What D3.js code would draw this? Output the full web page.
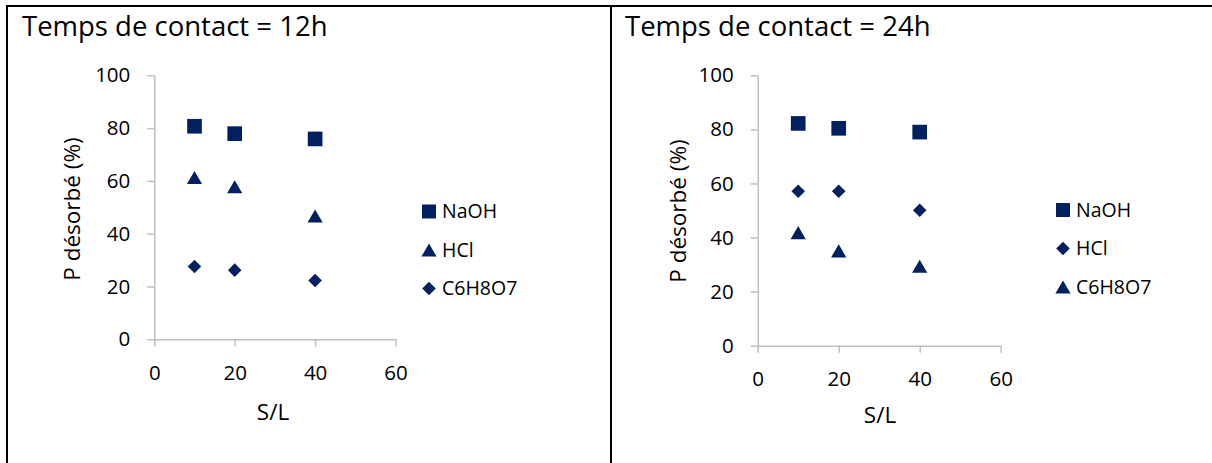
<!DOCTYPE html>
<html>
<head>
<meta charset="utf-8">
<script src="https://cdn.jsdelivr.net/npm/d3@7"></script>
<style>
  body { margin: 0; background: #fff; }
  text { font-family: "Open Sans", sans-serif; fill: #000; }
</style>
</head>
<body>
<div id="my_dataviz"></div>
<script>
// data
var xValues = [10, 20, 40];
var seriesNames = ["NaOH", "HCl", "C6H8O7"];
var naoh12 = [80.7, 77.9, 75.9];
var hcl12 = [61.3, 57.8, 46.7];
var citric12 = [27.6, 26.2, 22.3];
var naoh24 = [82.2, 80.4, 79.0];
var hcl24 = [57.1, 57.1, 50.1];
var citric24 = [41.8, 35.1, 29.4];
var xTicks = [0, 20, 40, 60];
var yTicks = [0, 20, 40, 60, 80, 100];
var titles = ["Temps de contact = 12h", "Temps de contact = 24h"];

const W = 1212, H = 463;
const navy = "#002060", axisGrey = "#bfbfbf";

var svg = d3.select("#my_dataviz")
  .append("svg")
    .attr("width", W)
    .attr("height", H);

// frame of the two table cells
svg.append("path")
    .attr("fill", "none")
    .attr("stroke", "#000")
    .attr("stroke-width", 2)
    .attr("d", "M6,6H" + W + "M7,5V" + H + "M611,5V" + H);

// marker shapes, centred on their bounding box like Excel does
function marker(kind, legend) {
  if (kind == "square") return d3.symbol(d3.symbolSquare, legend ? 196 : 215)();
  if (kind == "diamond") return d3.symbol(d3.symbolSquare, 92)();
  return d3.symbol(d3.symbolTriangle, 100)();
}
function markerTransform(kind, x, y) {
  if (kind == "diamond") return "translate(" + x + "," + y + ") rotate(45)";
  if (kind == "triangle") return "translate(" + x + "," + (y + 2.2) + ")";
  return "translate(" + x + "," + y + ")";
}

function drawPanel(p) {
  var g = svg.append("g");

  var xScale = d3.scaleLinear().domain([0, 60]).range([p.x0, p.x1]);
  var yScale = d3.scaleLinear().domain([0, 100]).range([p.yBot, p.yTop]);

  var xAxis = g.append("g")
      .attr("transform", "translate(0," + p.yBot + ")")
      .call(d3.axisBottom(xScale).tickValues(xTicks).tickSize(7).tickSizeOuter(0).tickPadding(19));
  var yAxis = g.append("g")
      .attr("transform", "translate(" + p.x0 + ",0)")
      .call(d3.axisLeft(yScale).tickValues(yTicks).tickSize(7).tickSizeOuter(0).tickPadding(17));

  [xAxis, yAxis].forEach(function(a) {
    a.selectAll("path, line").attr("stroke", axisGrey).attr("stroke-width", 1.5);
    a.selectAll("text")
      .style("font-family", "'Open Sans', sans-serif")
      .style("font-size", "20.5px")
      .attr("fill", "#000");
  });

  g.append("text")
      .attr("x", p.titleX)
      .attr("y", 36)
      .style("font-size", "27.5px")
      .text(p.title);

  g.append("text")
      .attr("transform", "translate(" + p.yLabelX + "," + p.yLabelY + ") rotate(-90)")
      .attr("text-anchor", "middle")
      .attr("dy", "0.35em")
      .style("font-size", "22.5px")
      .text("P désorbé (%)");

  g.append("text")
      .attr("x", p.xLabelX)
      .attr("y", p.xLabelY)
      .attr("text-anchor", "middle")
      .attr("dy", "0.35em")
      .style("font-size", "22.5px")
      .text("S/L");

  p.series.forEach(function(s, i) {
    g.selectAll(null)
      .data(s.values)
      .enter().append("path")
        .attr("d", marker(s.shape))
        .attr("fill", navy)
        .attr("transform", function(d, j) {
          return markerTransform(s.shape, xScale(xValues[j]), yScale(d));
        });

    // legend
    var ly = p.legendY[i];
    g.append("path")
        .attr("d", marker(s.shape, true))
        .attr("fill", navy)
        .attr("transform", markerTransform(s.shape, p.legendX, ly));
    g.append("text")
        .attr("x", p.legendX + 13)
        .attr("y", ly)
        .attr("dy", "0.35em")
        .style("font-size", "19.5px")
        .text(seriesNames[i]);
  });
}

drawPanel({
  title: titles[0], titleX: 22,
  x0: 154.3, x1: 395.5, yTop: 75.3, yBot: 339.3,
  yLabelX: 72, yLabelY: 209, xLabelX: 273, xLabelY: 412,
  legendX: 429, legendY: [211.5, 250, 288.5],
  series: [
    {values: naoh12, shape: "square"},
    {values: hcl12, shape: "triangle"},
    {values: citric12, shape: "diamond"}
  ]
});

drawPanel({
  title: titles[1], titleX: 625,
  x0: 757.7, x1: 1000.7, yTop: 75.3, yBot: 345.7,
  yLabelX: 678, yLabelY: 211, xLabelX: 880, xLabelY: 415,
  legendX: 1063, legendY: [210, 248.5, 287],
  series: [
    {values: naoh24, shape: "square"},
    {values: hcl24, shape: "diamond"},
    {values: citric24, shape: "triangle"}
  ]
});
</script>
</body>
</html>
